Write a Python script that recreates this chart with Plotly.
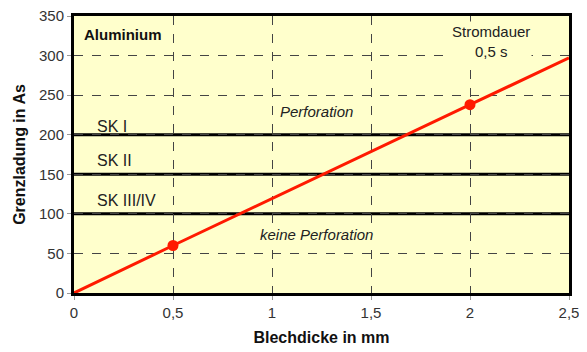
import plotly.graph_objects as go

# Data
thickness = [0, 0.5, 2.0, 2.5]
charge = [0, 60, 238, 297]
marker_x = [0.5, 2.0]
marker_y = [60, 238]
class_levels = [200, 150, 100]
class_labels = ["SK I", "SK II", "SK III/IV"]
class_label_y = [211, 167, 117]
x_ticks = [0, 0.5, 1, 1.5, 2, 2.5]
x_ticklabels = ["0", "0,5", "1", "1,5", "2", "2,5"]
y_ticks = [0, 50, 100, 150, 200, 250, 300, 350]

FONT = "Liberation Sans, Arial, sans-serif"
BG = "#FFFFCC"

fig = go.Figure()
fig.add_trace(go.Scatter(x=thickness, y=charge, mode="lines",
                         line=dict(color="#FF1A00", width=3), showlegend=False))
fig.add_trace(go.Scatter(x=marker_x, y=marker_y, mode="markers",
                         marker=dict(color="#FF1A00", size=11), showlegend=False))

for lvl in class_levels:
    fig.add_shape(type="line", xref="x", yref="y", x0=0, x1=2.5, y0=lvl, y1=lvl,
                  line=dict(color="black", width=3), layer="below")

for lab, ly in zip(class_labels, class_label_y):
    fig.add_annotation(x=0.105, y=ly, text=lab, showarrow=False, xanchor="left",
                       yanchor="middle", font=dict(family=FONT, size=16, color="#222"))

fig.add_annotation(x=0.04, y=327, text="<b>Aluminium</b>", showarrow=False, xanchor="left",
                   yanchor="middle", font=dict(family=FONT, size=15, color="#111"), bgcolor=BG)
fig.add_annotation(x=2.108, y=318, text="Stromdauer<br>0,5 s", showarrow=False,
                   xanchor="center", yanchor="middle", bgcolor=BG,
                   font=dict(family=FONT, size=15, color="#222"))
fig.add_annotation(x=1.227, y=229, text="<i>Perforation</i>", showarrow=False,
                   font=dict(family=FONT, size=15, color="#222"), bgcolor=BG)
fig.add_annotation(x=1.227, y=74, text="<i>keine Perforation</i>", showarrow=False,
                   font=dict(family=FONT, size=15, color="#222"), bgcolor=BG)

# page body has an 8px margin, so the figure is sized to fit inside the window
fig.update_layout(
    width=579, height=344,
    margin=dict(l=66, r=18, t=8, b=59),
    paper_bgcolor="white", plot_bgcolor=BG,
    font=dict(family=FONT, size=15, color="#333"),
    xaxis=dict(range=[0, 2.5], tickvals=x_ticks, ticktext=x_ticklabels, automargin=False,
               ticklabeloverflow="allow",
               showgrid=True, gridcolor="#444", griddash="dash", gridwidth=1,
               showline=True, linecolor="black", linewidth=3, mirror=True,
               ticks="outside", ticklen=4, tickcolor="#999", zeroline=False,
               title=dict(text="<b>Blechdicke in mm</b>", standoff=12,
                          font=dict(size=16, color="#111"))),
    yaxis=dict(range=[0, 350], tickvals=y_ticks, automargin=False,
               ticklabeloverflow="allow",
               showgrid=True, gridcolor="#444", griddash="dash", gridwidth=1,
               showline=True, linecolor="black", linewidth=3, mirror=True,
               ticks="outside", ticklen=4, tickcolor="#999", zeroline=False,
               title=dict(text="<b>Grenzladung in As</b>", standoff=10,
                          font=dict(size=16, color="#111"))),
)

fig.write_html("out.html")
